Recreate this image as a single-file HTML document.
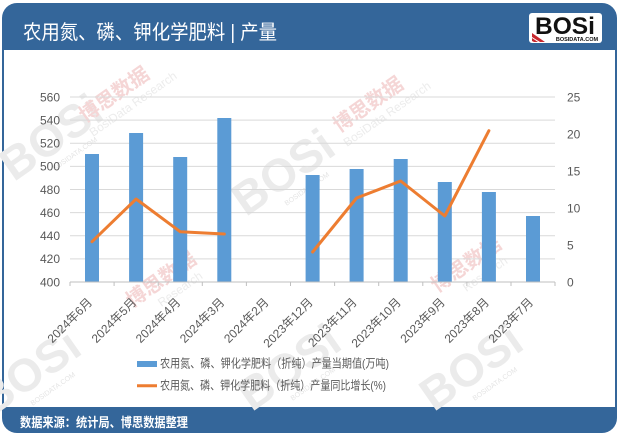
<!DOCTYPE html>
<html><head><meta charset="utf-8"><style>
html,body{margin:0;padding:0;background:#fff;}
svg{display:block;}
text{font-family:"Liberation Sans","Noto Sans CJK SC",sans-serif;}
</style></head><body>
<svg width="620" height="436" viewBox="0 0 620 436" xmlns="http://www.w3.org/2000/svg">
<rect x="0" y="0" width="620" height="436" fill="#fff"/>
<!-- frame -->
<rect x="2" y="3" width="615" height="430" rx="15" ry="15" fill="#34669a"/>
<rect x="4" y="50" width="611" height="357" fill="#fff"/>
<!-- watermarks -->
<g opacity="1">
 <g transform="translate(60,150) rotate(-35)"><text x="0" y="0" text-anchor="middle" font-size="46" font-weight="bold" fill="#ebebeb">BOSi</text><text x="10" y="14" text-anchor="middle" font-size="7" fill="#e4e4e4">BOSIDATA.COM</text></g>
 <g transform="translate(118,100) rotate(-35)"><text x="0" y="0" text-anchor="middle" font-size="20" font-weight="bold" fill="#f5d6d6">博思数据</text><text x="10" y="16" text-anchor="middle" font-size="12" fill="#ececec">BosiData Research</text></g>
 <g transform="translate(292,185) rotate(-35)"><text x="0" y="0" text-anchor="middle" font-size="46" font-weight="bold" fill="#ebebeb">BOSi</text><text x="10" y="14" text-anchor="middle" font-size="7" fill="#e4e4e4">BOSIDATA.COM</text></g>
 <g transform="translate(372,110) rotate(-35)"><text x="0" y="0" text-anchor="middle" font-size="20" font-weight="bold" fill="#f5d6d6">博思数据</text><text x="10" y="16" text-anchor="middle" font-size="12" fill="#ececec">BosiData Research</text></g>
 <g transform="translate(470,270) rotate(-35)"><text x="0" y="0" text-anchor="middle" font-size="20" font-weight="bold" fill="#f5d6d6">博思数据</text><text x="10" y="16" text-anchor="middle" font-size="12" fill="#ececec">Research</text></g>
 <g transform="translate(165,285) rotate(-35)"><text x="0" y="0" text-anchor="middle" font-size="20" font-weight="bold" fill="#f5d6d6">博思数据</text><text x="10" y="16" text-anchor="middle" font-size="12" fill="#ececec">Research</text></g>
 <g transform="translate(38,385) rotate(-35)"><text x="0" y="0" text-anchor="middle" font-size="46" font-weight="bold" fill="#ebebeb">BOSi</text><text x="10" y="14" text-anchor="middle" font-size="7" fill="#e4e4e4">BOSIDATA.COM</text></g>
 <g transform="translate(298,380) rotate(-35)"><text x="0" y="0" text-anchor="middle" font-size="46" font-weight="bold" fill="#ebebeb">BOSi</text><text x="10" y="14" text-anchor="middle" font-size="7" fill="#e4e4e4">BOSIDATA.COM</text></g>
 <g transform="translate(480,380) rotate(-35)"><text x="0" y="0" text-anchor="middle" font-size="46" font-weight="bold" fill="#ebebeb">BOSi</text><text x="10" y="14" text-anchor="middle" font-size="7" fill="#e4e4e4">BOSIDATA.COM</text></g>
</g>
<!-- header title -->
<text x="23" y="39" font-size="20" fill="#fff" textLength="254" lengthAdjust="spacingAndGlyphs">农用氮、磷、钾化学肥料 | 产量</text>
<!-- logo -->
<rect x="529" y="13" width="73" height="30" rx="3" fill="#fff"/>
<text x="565" y="34" text-anchor="middle" font-size="24" font-weight="bold" fill="#111" textLength="60" lengthAdjust="spacingAndGlyphs">BOSi</text>
<polygon points="532,33 545,42 540,42 532,37" fill="#c8282e"/>
<polygon points="532,38 538,42 534,42 532,41" fill="#c8282e"/>
<text x="577" y="41" text-anchor="middle" font-size="5.5" font-weight="bold" fill="#111">BOSIDATA.COM</text>
<!-- gridlines -->
<g stroke="#d9d9d9" stroke-width="1">
 <line x1="70" y1="97" x2="555" y2="97"/>
 <line x1="70" y1="120.1" x2="555" y2="120.1"/>
 <line x1="70" y1="143.3" x2="555" y2="143.3"/>
 <line x1="70" y1="166.4" x2="555" y2="166.4"/>
 <line x1="70" y1="189.5" x2="555" y2="189.5"/>
 <line x1="70" y1="212.6" x2="555" y2="212.6"/>
 <line x1="70" y1="235.8" x2="555" y2="235.8"/>
 <line x1="70" y1="258.9" x2="555" y2="258.9"/>
</g>
<!-- bars -->
<g fill="#5b9bd5">
 <rect x="85" y="154" width="14" height="128"/>
 <rect x="129.1" y="133" width="14" height="149"/>
 <rect x="173.2" y="157" width="14" height="125"/>
 <rect x="217.3" y="118" width="14" height="164"/>
 <rect x="305.6" y="175" width="14" height="107"/>
 <rect x="349.6" y="169" width="14" height="113"/>
 <rect x="393.7" y="159" width="14" height="123"/>
 <rect x="437.8" y="182" width="14" height="100"/>
 <rect x="481.9" y="192" width="14" height="90"/>
 <rect x="526" y="216" width="14" height="66"/>
</g>
<!-- x axis -->
<line x1="70" y1="282" x2="555" y2="282" stroke="#bfbfbf" stroke-width="1"/>
<g stroke="#bfbfbf" stroke-width="1">
 <line x1="70" y1="282" x2="70" y2="286"/>
 <line x1="114.1" y1="282" x2="114.1" y2="286"/>
 <line x1="158.2" y1="282" x2="158.2" y2="286"/>
 <line x1="202.3" y1="282" x2="202.3" y2="286"/>
 <line x1="246.4" y1="282" x2="246.4" y2="286"/>
 <line x1="290.5" y1="282" x2="290.5" y2="286"/>
 <line x1="334.6" y1="282" x2="334.6" y2="286"/>
 <line x1="378.7" y1="282" x2="378.7" y2="286"/>
 <line x1="422.8" y1="282" x2="422.8" y2="286"/>
 <line x1="466.9" y1="282" x2="466.9" y2="286"/>
 <line x1="511" y1="282" x2="511" y2="286"/>
 <line x1="555" y1="282" x2="555" y2="286"/>
</g>
<!-- line series -->
<polyline points="92,241.7 136.1,199 180.2,231.7 224.3,234" fill="none" stroke="#ed7d31" stroke-width="3" stroke-linejoin="round" stroke-linecap="round"/>
<polyline points="312.6,252 356.6,198 400.7,181 444.8,216 488.9,130.7" fill="none" stroke="#ed7d31" stroke-width="3" stroke-linejoin="round" stroke-linecap="round"/>
<!-- left axis labels -->
<g font-size="12" fill="#595959" text-anchor="end">
 <text x="60" y="101.3">560</text>
 <text x="60" y="124.4">540</text>
 <text x="60" y="147.6">520</text>
 <text x="60" y="170.7">500</text>
 <text x="60" y="193.8">480</text>
 <text x="60" y="216.9">460</text>
 <text x="60" y="240.1">440</text>
 <text x="60" y="263.2">420</text>
 <text x="60" y="286.3">400</text>
</g>
<!-- right axis labels -->
<g font-size="12" fill="#595959" text-anchor="start">
 <text x="567" y="101.3">25</text>
 <text x="567" y="138.3">20</text>
 <text x="567" y="175.3">15</text>
 <text x="567" y="212.3">10</text>
 <text x="567" y="249.3">5</text>
 <text x="567" y="286.3">0</text>
</g>
<!-- x labels -->
<g font-size="12" fill="#595959" text-anchor="end">
 <text transform="translate(93,303) rotate(-45)">2024年6月</text>
 <text transform="translate(137.1,303) rotate(-45)">2024年5月</text>
 <text transform="translate(181.2,303) rotate(-45)">2024年4月</text>
 <text transform="translate(225.3,303) rotate(-45)">2024年3月</text>
 <text transform="translate(269.5,303) rotate(-45)">2024年2月</text>
 <text transform="translate(313.6,303) rotate(-45)">2023年12月</text>
 <text transform="translate(357.6,303) rotate(-45)">2023年11月</text>
 <text transform="translate(401.7,303) rotate(-45)">2023年10月</text>
 <text transform="translate(445.8,303) rotate(-45)">2023年9月</text>
 <text transform="translate(489.9,303) rotate(-45)">2023年8月</text>
 <text transform="translate(534,303) rotate(-45)">2023年7月</text>
</g>
<!-- legend -->
<rect x="137" y="361" width="20" height="6" fill="#5b9bd5"/>
<text x="160" y="367.5" font-size="12" fill="#595959" textLength="229" lengthAdjust="spacingAndGlyphs">农用氮、磷、钾化学肥料（折纯）产量当期值(万吨)</text>
<line x1="137" y1="385.7" x2="157" y2="385.7" stroke="#ed7d31" stroke-width="3"/>
<text x="160" y="389.5" font-size="12" fill="#595959" textLength="226" lengthAdjust="spacingAndGlyphs">农用氮、磷、钾化学肥料（折纯）产量同比增长(%)</text>
<!-- footer -->
<text x="20" y="427" font-size="13" font-weight="bold" fill="#fff" textLength="168" lengthAdjust="spacingAndGlyphs">数据来源：统计局、博思数据整理</text>
</svg>
</body></html>
